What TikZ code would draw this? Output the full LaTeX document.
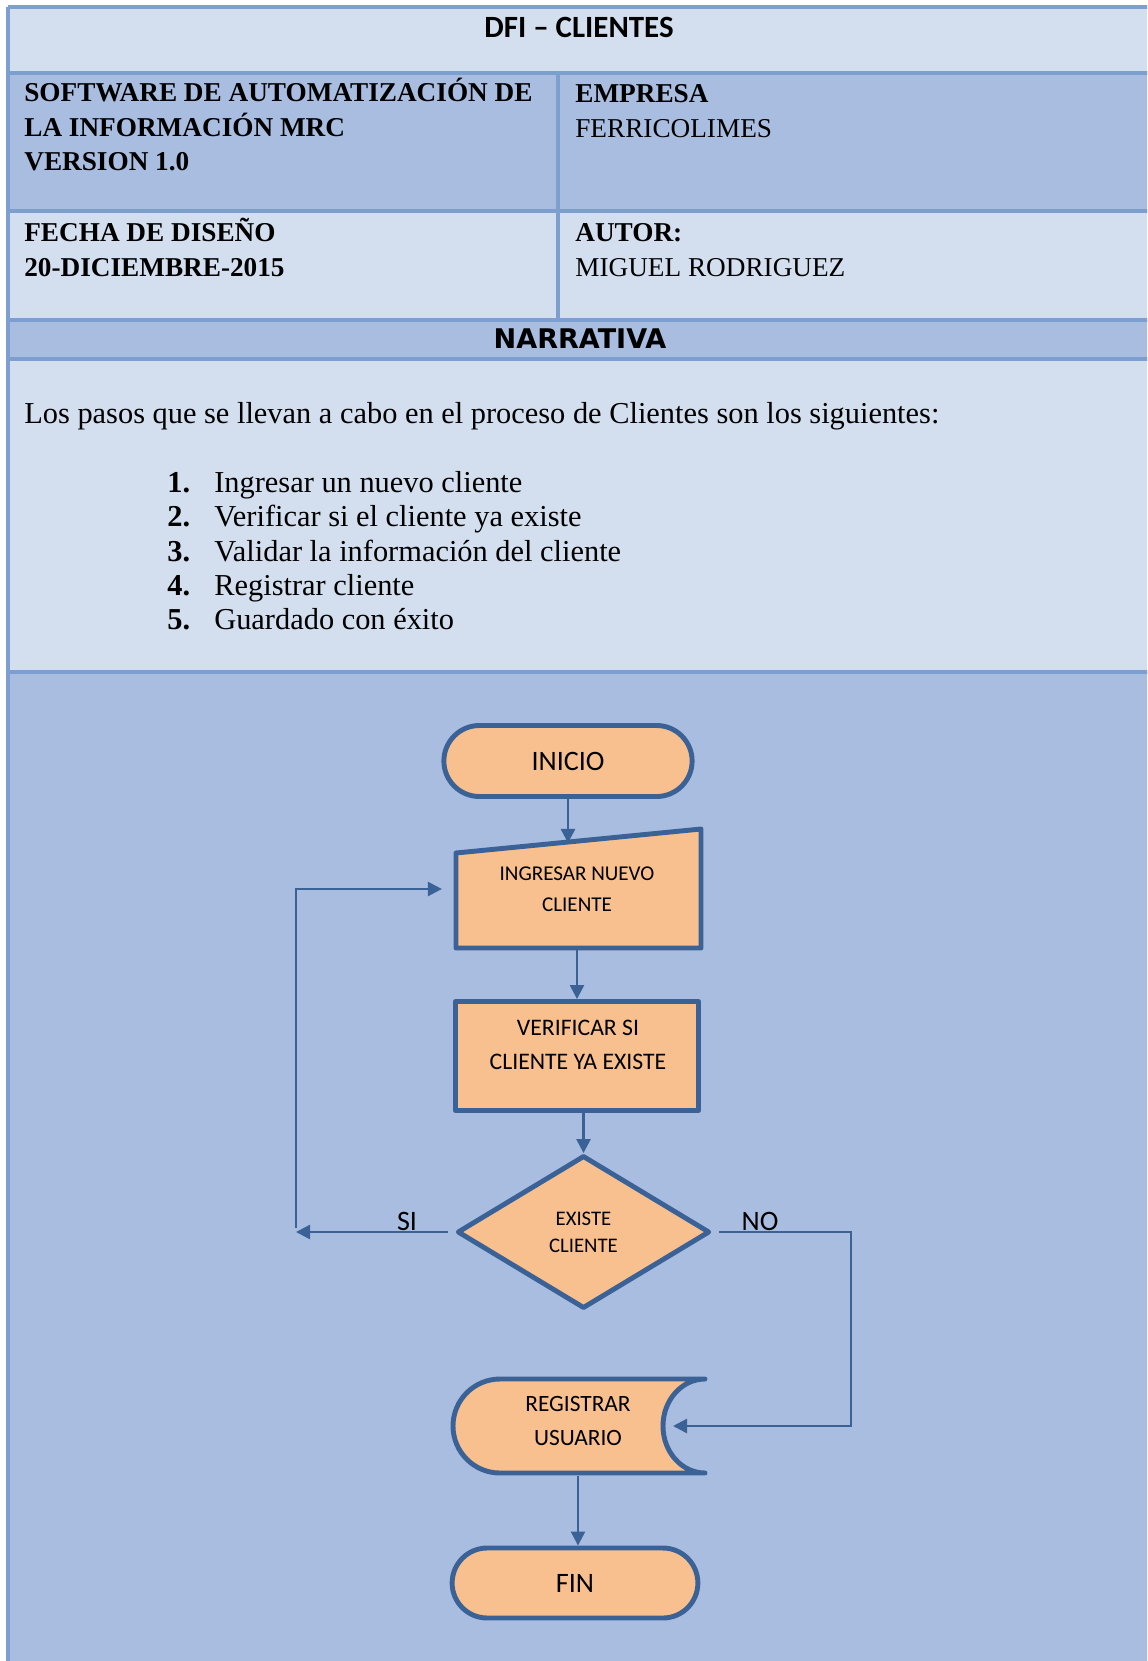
\documentclass[tikz,border=0pt]{standalone}
\usepackage{fontspec}
\setmainfont{Liberation Serif}
\newfontfamily\calibri{Carlito}
\newfontfamily\verdana{DejaVu Sans}
\usetikzlibrary{arrows.meta,shapes.geometric,shapes.misc}

\definecolor{celdaclara}{HTML}{D3DFEE}
\definecolor{celdaoscura}{HTML}{A8BDDF}
\definecolor{borde}{HTML}{7C9FD0}
\definecolor{linea}{HTML}{3A6296}
\definecolor{durazno}{HTML}{F8C08F}

\begin{document}
\begin{tikzpicture}[x=0.02cm,y=-0.02cm,
  celda/.style={anchor=base west,inner sep=0pt,font=\fontsize{15.5}{18}\selectfont},
  paso/.style={anchor=base west,inner sep=0pt,font=\fontsize{17.3}{20}\selectfont},
  forma/.style={draw=linea,line width=2.8pt,fill=durazno,line join=round},
  terminal/.style={forma,rounded rectangle,font=\calibri\fontsize{16}{19}\selectfont},
  flecha/.style={draw=linea,line width=1.4pt,-{Triangle[length=8pt,width=8pt]}},
  rotulo/.style={font=\calibri\fontsize{16}{19}\selectfont}]
  \useasboundingbox (0,0) rectangle (1147,1661);
  \clip (0,0) rectangle (1147,1661);
  \fill[white] (0,0) rectangle (1147,1661);

  % filas de la tabla
  \foreach \ya/\yb/\c in {7/73/celdaclara,73/211/celdaoscura,211/320/celdaclara,
      320/359/celdaoscura,359/672/celdaclara,672/1670/celdaoscura}
    \fill[\c] (8,\ya) rectangle (1160,\yb);
  \foreach \y in {7,73,211,320,359,672}
    \draw[borde,line width=1.9pt] (8,\y) -- (1160,\y);
  \draw[borde,line width=1.9pt] (8,7) -- (8,1670);
  \draw[borde,line width=1.9pt] (558,73) -- (558,320);

  \node[anchor=base,font=\calibri\bfseries\fontsize{17.6}{20}\selectfont] (titulo) at (579,37) {DFI – CLIENTES};
  \foreach \t [count=\i] in {SOFTWARE DE AUTOMATIZACIÓN DE,LA INFORMACIÓN MRC,VERSION 1.0}
    \node[celda,font=\bfseries\fontsize{15.5}{18}\selectfont] (software\i) at (24,{67.3+34.5*\i}) {\t};
  \node[celda,font=\bfseries\fontsize{15.5}{18}\selectfont] (empresa) at (575,102) {EMPRESA};
  \node[celda] (ferricolimes) at (575,137) {FERRICOLIMES};
  \node[celda,font=\bfseries\fontsize{15.5}{18}\selectfont] (fecha) at (24,241) {FECHA DE DISEÑO};
  \node[celda,font=\bfseries\fontsize{15.5}{18}\selectfont] (dia) at (24,276) {20-DICIEMBRE-2015};
  \node[celda,font=\bfseries\fontsize{15.5}{18}\selectfont] (autor) at (575,241) {AUTOR:};
  \node[celda] (miguel) at (575,276) {MIGUEL RODRIGUEZ};
  \node[anchor=base,font=\verdana\bfseries\fontsize{15.4}{18}\selectfont] (narrativa) at (580,348) {NARRATIVA};

  \node[paso] (intro) at (24,423) {Los pasos que se llevan a cabo en el proceso de Clientes son los siguientes:};
  \foreach \t [count=\i] in {Ingresar un nuevo cliente,Verificar si el cliente ya existe,
      Validar la información del cliente,Registrar cliente,Guardado con éxito} {
    \node[paso] (num\i) at (167,{458.3+34.3*\i}) {\textbf{\i.}};
    \node[paso] (paso\i) at (214,{458.3+34.3*\i}) {\t};
  }

  % diagrama de flujo
  \node[terminal,minimum width=5.2cm,minimum height=1.42cm] (inicio) at (568,761) {INICIO};
  \path[forma] (456,853) -- (701,829) -- (701,948) -- (456,948) -- cycle;
  \node[align=center,minimum width=4.9cm,minimum height=2.38cm,
    font=\calibri\fontsize{12}{17.6}\selectfont] (ingresar) at (577,889) {INGRESAR NUEVO\\CLIENTE};
  \coordinate (entrada) at (568,843);

  \node[forma,minimum width=4.86cm,minimum height=2.18cm] (verificar) at (577,1056) {};
  \node[align=center,font=\calibri\fontsize{13.5}{19.3}\selectfont] (verificartxt) at (578,1045)
    {VERIFICAR SI\\CLIENTE YA EXISTE};

  \node[forma,diamond,inner sep=0pt,minimum width=5.05cm,minimum height=3.06cm,align=center,
    font=\calibri\fontsize{11.8}{15.4}\selectfont] (existe) at (583.5,1232) {EXISTE\\CLIENTE};
  \node[rotulo] (si) at (407,1221) {SI};
  \node[rotulo] (no) at (760,1221) {NO};
  \coordinate (retorno) at (296,1228);
  \coordinate (esquina) at (851,1426);
  \coordinate (entradareg) at (673,1426);

  \path[forma,line cap=round] (705,1379) -- (500,1379) arc[start angle=270,end angle=90,radius=47]
    -- (705,1473) arc[start angle=90,end angle=270,x radius=42,y radius=47] -- cycle;
  \node[align=center,font=\calibri\fontsize{13.3}{19.3}\selectfont] (registrar) at (578,1421) {REGISTRAR\\USUARIO};
  \coordinate (salidareg) at (578,1476);

  \node[terminal,minimum width=5.15cm,minimum height=1.4cm] (fin) at (575,1583) {FIN};

  \draw[flecha] (inicio.south) -- (entrada);
  \draw[flecha] (ingresar.south) -- (verificar.north);
  \draw[flecha] (verificar.south -| existe.north) -- (existe.north);
  \draw[flecha,shorten <=4pt] (existe.west) -- (existe.west -| retorno);
  \draw[flecha,shorten >=7pt] (retorno) |- (ingresar.west);
  \draw[flecha,shorten <=4pt] (existe.east) -| (esquina) -- (entradareg);
  \draw[flecha] (salidareg) -- (salidareg |- fin.north);
\end{tikzpicture}
\end{document}
